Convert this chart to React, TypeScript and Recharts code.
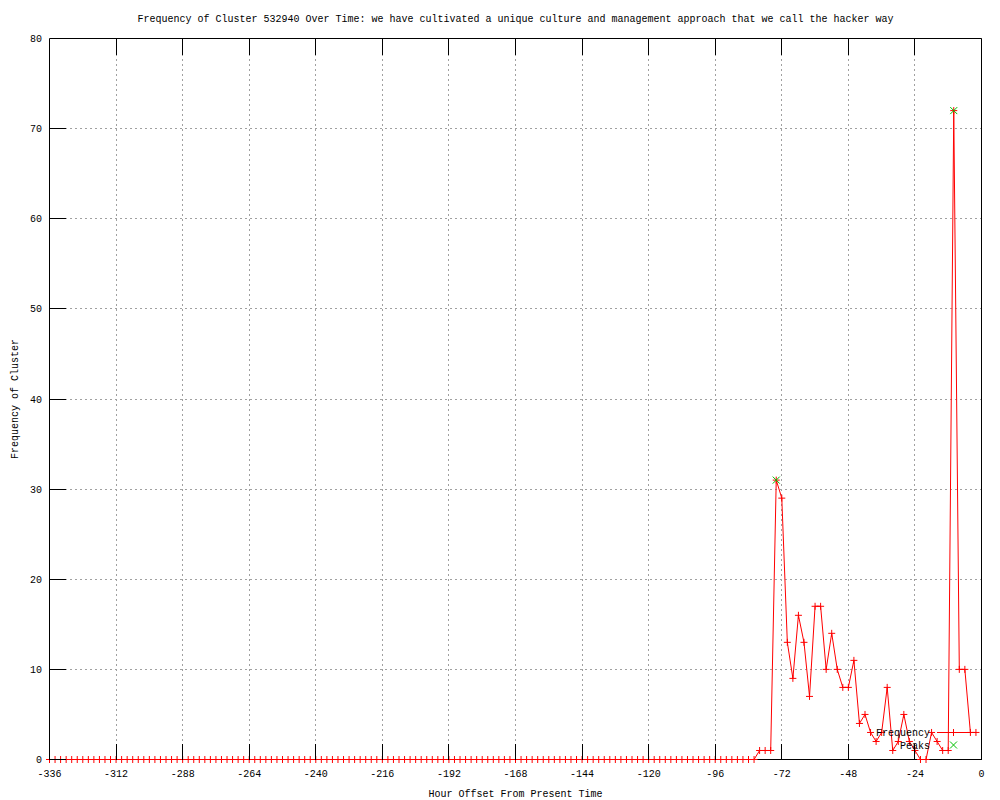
import {
  ComposedChart,
  CartesianGrid,
  Legend,
  Line,
  XAxis,
  YAxis,
} from "recharts";

const FONT = "'Liberation Mono', 'DejaVu Sans Mono', monospace";
const RED = "#ff0000";
const GREEN = "#00c000";

const title =
  "Frequency of Cluster 532940 Over Time: we have cultivated a unique culture and management approach that we call the hacker way";

// one value every 2 hours, starting at -336
const startHour = -336;
const stepHours = 2;
const freq = [
  0, 0, 0, 0, 0, 0, 0, 0, 0, 0, 0, 0,
  0, 0, 0, 0, 0, 0, 0, 0, 0, 0, 0, 0,
  0, 0, 0, 0, 0, 0, 0, 0, 0, 0, 0, 0,
  0, 0, 0, 0, 0, 0, 0, 0, 0, 0, 0, 0,
  0, 0, 0, 0, 0, 0, 0, 0, 0, 0, 0, 0,
  0, 0, 0, 0, 0, 0, 0, 0, 0, 0, 0, 0,
  0, 0, 0, 0, 0, 0, 0, 0, 0, 0, 0, 0,
  0, 0, 0, 0, 0, 0, 0, 0, 0, 0, 0, 0,
  0, 0, 0, 0, 0, 0, 0, 0, 0, 0, 0, 0,
  0, 0, 0, 0, 0, 0, 0, 0, 0, 0, 0, 0,
  0, 0, 0, 0, 0, 0, 0, 0, 1, 1, 1, 31,
  29, 13, 9, 16, 13, 7, 17, 17, 10, 14, 10, 8,
  8, 11, 4, 5, 3, 2, 3, 8, 1, 2, 5, 2,
  1, 0, 0, 3, 2, 1, 1, 72, 10, 10, 3, 3,
];

const peakHours = [-74, -10];
const peakValues = [31, 72];

const xTicks = [-336, -312, -288, -264, -240, -216, -192, -168, -144, -120, -96, -72, -48, -24, 0];
const yTicks = [0, 10, 20, 30, 40, 50, 60, 70, 80];

const lineData = freq.map((v, i) => ({ h: startHour + i * stepHours, v }));
const peakData = peakHours.map((h, i) => ({ h, v: peakValues[i] }));

const TICK = 16;
const textStyle = { fontFamily: FONT, fontSize: 10, fill: "#000" };
const border = { stroke: "#000", strokeWidth: 1 };

function BottomTick({ x, y, payload }: any) {
  return (
    <g>
      <line x1={x} y1={y} x2={x} y2={y - TICK} stroke="#000" shapeRendering="crispEdges" />
      <text x={x} y={y + 17.5} textAnchor="middle" style={textStyle}>
        {payload.value}
      </text>
    </g>
  );
}

function TopTick({ x, y }: any) {
  return <line x1={x} y1={y} x2={x} y2={y + TICK} stroke="#000" shapeRendering="crispEdges" />;
}

function LeftTick({ x, y, payload }: any) {
  return (
    <g>
      <line x1={x} y1={y} x2={x + TICK} y2={y} stroke="#000" shapeRendering="crispEdges" />
      <text x={x - 7.5} y={y + 3.5} textAnchor="end" style={textStyle}>
        {payload.value}
      </text>
    </g>
  );
}

function RightTick({ x, y }: any) {
  return <line x1={x} y1={y} x2={x - TICK} y2={y} stroke="#000" shapeRendering="crispEdges" />;
}

const plusPath = (cx: number, cy: number) =>
  `M${cx - 3.5},${cy}H${cx + 3.5}M${cx},${cy - 3.5}V${cy + 3.5}`;
const crossPath = (cx: number, cy: number) =>
  `M${cx - 3.5},${cy - 3.5}L${cx + 3.5},${cy + 3.5}M${cx - 3.5},${cy + 3.5}L${cx + 3.5},${cy - 3.5}`;

function KeyBox({ payload }: any) {
  const rows = (payload || []).filter((p: any) => p.value);
  return (
    <svg width={120} height={30} style={{ display: "block", overflow: "visible" }}>
      {rows.map((p: any, i: number) => {
        const cy = 7.5 + i * 12.5;
        const isPeak = p.value === "Peaks";
        return (
          <g key={p.value}>
            <text x={60} y={cy + 3.5} textAnchor="end" style={textStyle}>
              {p.value}
            </text>
            {isPeak ? (
              <path d={crossPath(83.5, cy)} stroke={GREEN} fill="none" />
            ) : (
              <g>
                <line x1={67} y1={cy} x2={100} y2={cy} stroke={RED} />
                <path d={plusPath(83.5, cy)} stroke={RED} fill="none" />
              </g>
            )}
          </g>
        );
      })}
    </svg>
  );
}

export default function App() {
  return (
    <div style={{ position: "absolute", left: 0, top: 0, background: "#fff" }}>
      <ComposedChart
        width={1000}
        height={800}
        data={lineData}
        margin={{ top: 0, right: 0, bottom: 0, left: 0 }}
      >
        <CartesianGrid stroke="#a0a0a0" strokeDasharray="2 3" shapeRendering="crispEdges" />
        <Line
          name="Frequency"
          dataKey="v"
          stroke={RED}
          strokeWidth={1}
          isAnimationActive={false}
          activeDot={false}
          dot={(p: any) => (
            <path key={`f${p.index}`} d={plusPath(p.cx, p.cy)} stroke={RED} fill="none" />
          )}
        />
        <Line
          name="Peaks"
          data={peakData}
          dataKey="v"
          stroke="none"
          isAnimationActive={false}
          activeDot={false}
          dot={(p: any) => (
            <path key={`p${p.index}`} d={crossPath(p.cx, p.cy)} stroke={GREEN} fill="none" />
          )}
        />
        <XAxis
          dataKey="h"
          type="number"
          domain={[-336, 0]}
          ticks={xTicks}
          interval={0}
          height={40.5}
          axisLine={border}
          tickLine={false}
          tickSize={0}
          tickMargin={0}
          tick={<BottomTick />}
          label={{
            value: "Hour Offset From Present Time",
            position: "insideBottom",
            offset: 3.5,
            style: textStyle,
          }}
        />
        <XAxis
          xAxisId="top"
          orientation="top"
          dataKey="h"
          type="number"
          domain={[-336, 0]}
          ticks={xTicks}
          interval={0}
          height={38.5}
          axisLine={border}
          tickLine={false}
          tickSize={0}
          tickMargin={0}
          tick={<TopTick />}
          label={{
            value: title,
            position: "insideTop",
            offset: 14.5,
            style: textStyle,
          }}
        />
        <YAxis
          type="number"
          domain={[0, 80]}
          ticks={yTicks}
          interval={0}
          width={49.5}
          axisLine={border}
          tickLine={false}
          tickSize={0}
          tickMargin={0}
          tick={<LeftTick />}
          label={{
            value: "Frequency of Cluster",
            angle: -90,
            position: "insideLeft",
            offset: 14,
            style: { ...textStyle, textAnchor: "middle" },
          }}
        />
        <YAxis
          yAxisId="r"
          orientation="right"
          type="number"
          domain={[0, 80]}
          ticks={yTicks}
          interval={0}
          width={18.5}
          axisLine={border}
          tickLine={false}
          tickSize={0}
          tickMargin={0}
          tick={<RightTick />}
        />
        <Legend
          layout="vertical"
          align="center"
          verticalAlign="middle"
          wrapperStyle={{ left: 870, top: 725, width: 120, height: 30 }}
          content={<KeyBox />}
        />
      </ComposedChart>
    </div>
  );
}
